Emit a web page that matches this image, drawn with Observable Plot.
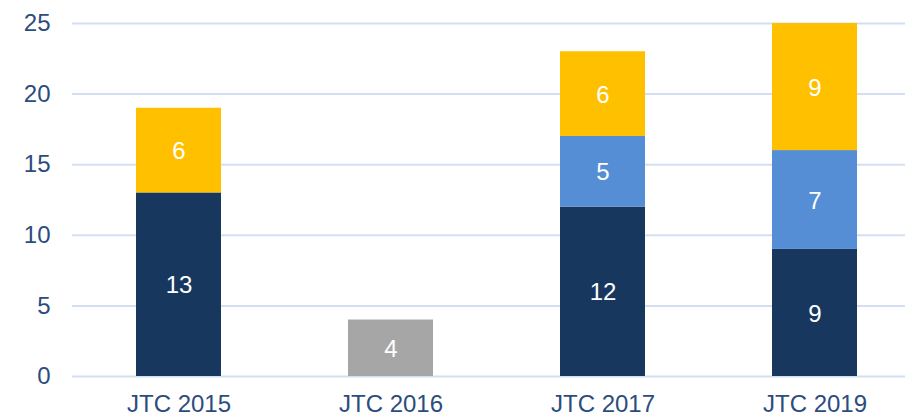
<!DOCTYPE html>
<html>
<head>
<meta charset="utf-8">
<script src="https://cdn.jsdelivr.net/npm/d3@7"></script>
<script src="https://cdn.jsdelivr.net/npm/@observablehq/plot@0.6"></script>
<style>
  html, body { margin: 0; padding: 0; background: #ffffff; }
  #chart svg { display: block; }
</style>
</head>
<body>
<div id="chart"></div>
<script>
const categories = ["JTC 2015", "JTC 2016", "JTC 2017", "JTC 2019"];
const seriesNames = ["Series A", "Series B", "Series C", "Series D"];
const seriesAValues = [13, 0, 12, 9];
const seriesBValues = [0, 4, 0, 0];
const seriesCValues = [0, 0, 5, 7];
const seriesDValues = [6, 0, 6, 9];
const yTicks = [0, 5, 10, 15, 20, 25];

const seriesColors = ["#17375e", "#a6a6a6", "#558ed5", "#ffc000"];
const allValues = [seriesAValues, seriesBValues, seriesCValues, seriesDValues];

const rows = [];
seriesNames.forEach((s, si) => {
  categories.forEach((c, ci) => {
    const v = allValues[si][ci];
    if (v > 0) rows.push({category: c, series: s, value: v});
  });
});

const textColor = "#2b4c7e";
const font = "'Liberation Sans', Arial, sans-serif";

const chart = Plot.plot({
  width: 905,
  height: 415,
  marginLeft: 72,
  marginRight: 0,
  marginTop: 23,
  marginBottom: 39,
  style: {fontFamily: font, fontSize: "24px", color: textColor, background: "#ffffff"},
  x: {domain: categories, range: [72, 920], paddingInner: 0.6, paddingOuter: 0.3, label: null},
  y: {domain: [0, 25], label: null},
  color: {domain: seriesNames, range: seriesColors},
  marks: [
    Plot.ruleY(yTicks, {stroke: "#d3dff0", strokeWidth: 2}),
    Plot.barY(rows, {x: "category", y: "value", fill: "series", z: "series"}),
    Plot.text(rows, Plot.stackY({x: "category", y: "value", z: "series", text: d => String(d.value), fill: "#ffffff", fontSize: 24, dy: 1})),
    Plot.axisY({ticks: yTicks, tickSize: 0, tickPadding: 22, fontSize: 24, fill: textColor, label: null}),
    Plot.axisX({tickSize: 0, tickPadding: 18, fontSize: 24, fill: textColor, label: null})
  ]
});

document.getElementById("chart").appendChild(chart);
</script>
</body>
</html>
